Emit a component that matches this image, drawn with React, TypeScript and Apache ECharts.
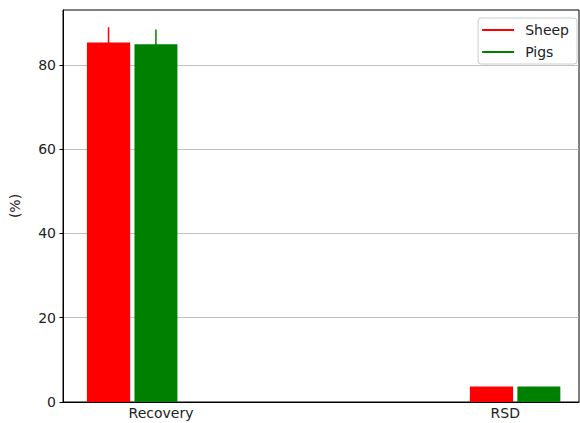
import React, { useEffect, useRef } from "react";
import * as echarts from "echarts";

// Measurements per group: [category index, mean, error]
const categories = ["Recovery", "RSD"];
const sheepValues = [85.3, 3.7];
const sheepErrors = [3.6, 0];
const pigsValues = [84.9, 3.7];
const pigsErrors = [3.5, 0];
const yTicks = [0, 20, 40, 60, 80];

// Where the category labels sit along the x (index) scale
const labelPositions = [0.075, 0.974];

const FONT = "DejaVu Sans";
const FS = 14;

type BarSpec = { name: string; color: string; values: number[]; errors: number[]; from: number; to: number };

const bars: BarSpec[] = [
  { name: "Sheep", color: "#ff0000", values: sheepValues, errors: sheepErrors, from: -0.1185, to: -0.0056 },
  { name: "Pigs", color: "#008000", values: pigsValues, errors: pigsErrors, from: 0.0056, to: 0.1178 },
];

function makeSeries(b: BarSpec) {
  return {
    type: "custom",
    name: b.name,
    data: b.values.map((v, i) => [i, v, b.errors[i]]),
    encode: { x: 0, y: 1 },
    renderItem: (params: any, api: any) => {
      const x = api.value(0);
      const v = api.value(1);
      const e = api.value(2);
      const p0 = api.coord([x + b.from, v]);
      const p1 = api.coord([x + b.to, 0]);
      const children: any[] = [
        {
          type: "rect",
          shape: { x: p0[0], y: p0[1], width: p1[0] - p0[0], height: p1[1] - p0[1] },
          style: { fill: b.color },
        },
      ];
      if (e > 0) {
        const cx = (p0[0] + p1[0]) / 2;
        const top = api.coord([x, v + e])[1];
        const bot = api.coord([x, v - e])[1];
        children.push({
          type: "line",
          shape: { x1: cx, y1: top, x2: cx, y2: bot },
          style: { stroke: b.color, lineWidth: 1.5 },
        });
      }
      return { type: "group", children };
    },
  };
}

export default function App() {
  const ref = useRef<HTMLDivElement>(null);

  useEffect(() => {
    if (!ref.current) return;
    const chart = echarts.init(ref.current, undefined, { renderer: "svg" });
    chart.setOption({
      animation: false,
      backgroundColor: "#ffffff",
      textStyle: { fontFamily: FONT },
      grid: {
        left: 59,
        right: 1,
        top: 10,
        bottom: 21,
        show: true,
        borderColor: "#000",
        borderWidth: 1,
        backgroundColor: "transparent",
      },
      legend: {
        right: 3,
        top: 18,
        orient: "vertical",
        itemWidth: 32,
        itemHeight: 2,
        itemGap: 8,
        padding: [5, 8, 5, 4],
        backgroundColor: "#fff",
        borderColor: "#cccccc",
        borderWidth: 1,
        borderRadius: 3,
        textStyle: { fontFamily: FONT, fontSize: FS, color: "#222", padding: [0, 0, 0, 6] },
        data: bars.map((b) => ({ name: b.name, icon: "rect", itemStyle: { color: b.color } })),
      },
      xAxis: {
        type: "value",
        min: -0.181,
        max: 1.1665,
        axisLine: { show: true, onZero: false, lineStyle: { color: "#000", width: 1 } },
        axisTick: { show: false },
        axisLabel: { show: false },
        splitLine: { show: false },
      },
      yAxis: {
        type: "value",
        min: 0,
        max: 93,
        interval: 20,
        name: "(%)",
        nameLocation: "middle",
        nameGap: 41,
        nameTextStyle: { fontFamily: FONT, fontSize: FS, color: "#222" },
        axisLine: { show: true, onZero: false, lineStyle: { color: "#000", width: 1 } },
        axisTick: {
          show: true,
          length: 3.5,
          inside: false,
          customValues: yTicks,
          lineStyle: { color: "#000" },
        },
        axisLabel: {
          fontFamily: FONT,
          fontSize: FS,
          color: "#222",
          margin: 7,
          customValues: yTicks,
        },
        splitLine: { show: true, lineStyle: { color: "#b0b0b0", width: 0.8 } },
      },
      series: bars.map(makeSeries),
    });

    const baseY = chart.convertToPixel({ yAxisIndex: 0 }, 0) as number;
    chart.setOption({
      graphic: categories.map((c, i) => ({
        type: "text",
        x: chart.convertToPixel({ xAxisIndex: 0 }, labelPositions[i]) as number,
        y: baseY + 4,
        style: {
          text: c,
          fontFamily: FONT,
          fontSize: FS,
          fill: "#222",
          align: "center",
          verticalAlign: "top",
        },
      })),
    });

    return () => chart.dispose();
  }, []);

  return (
    <div
      ref={ref}
      style={{ position: "fixed", left: 0, top: 0, width: 580, height: 423 }}
    />
  );
}
